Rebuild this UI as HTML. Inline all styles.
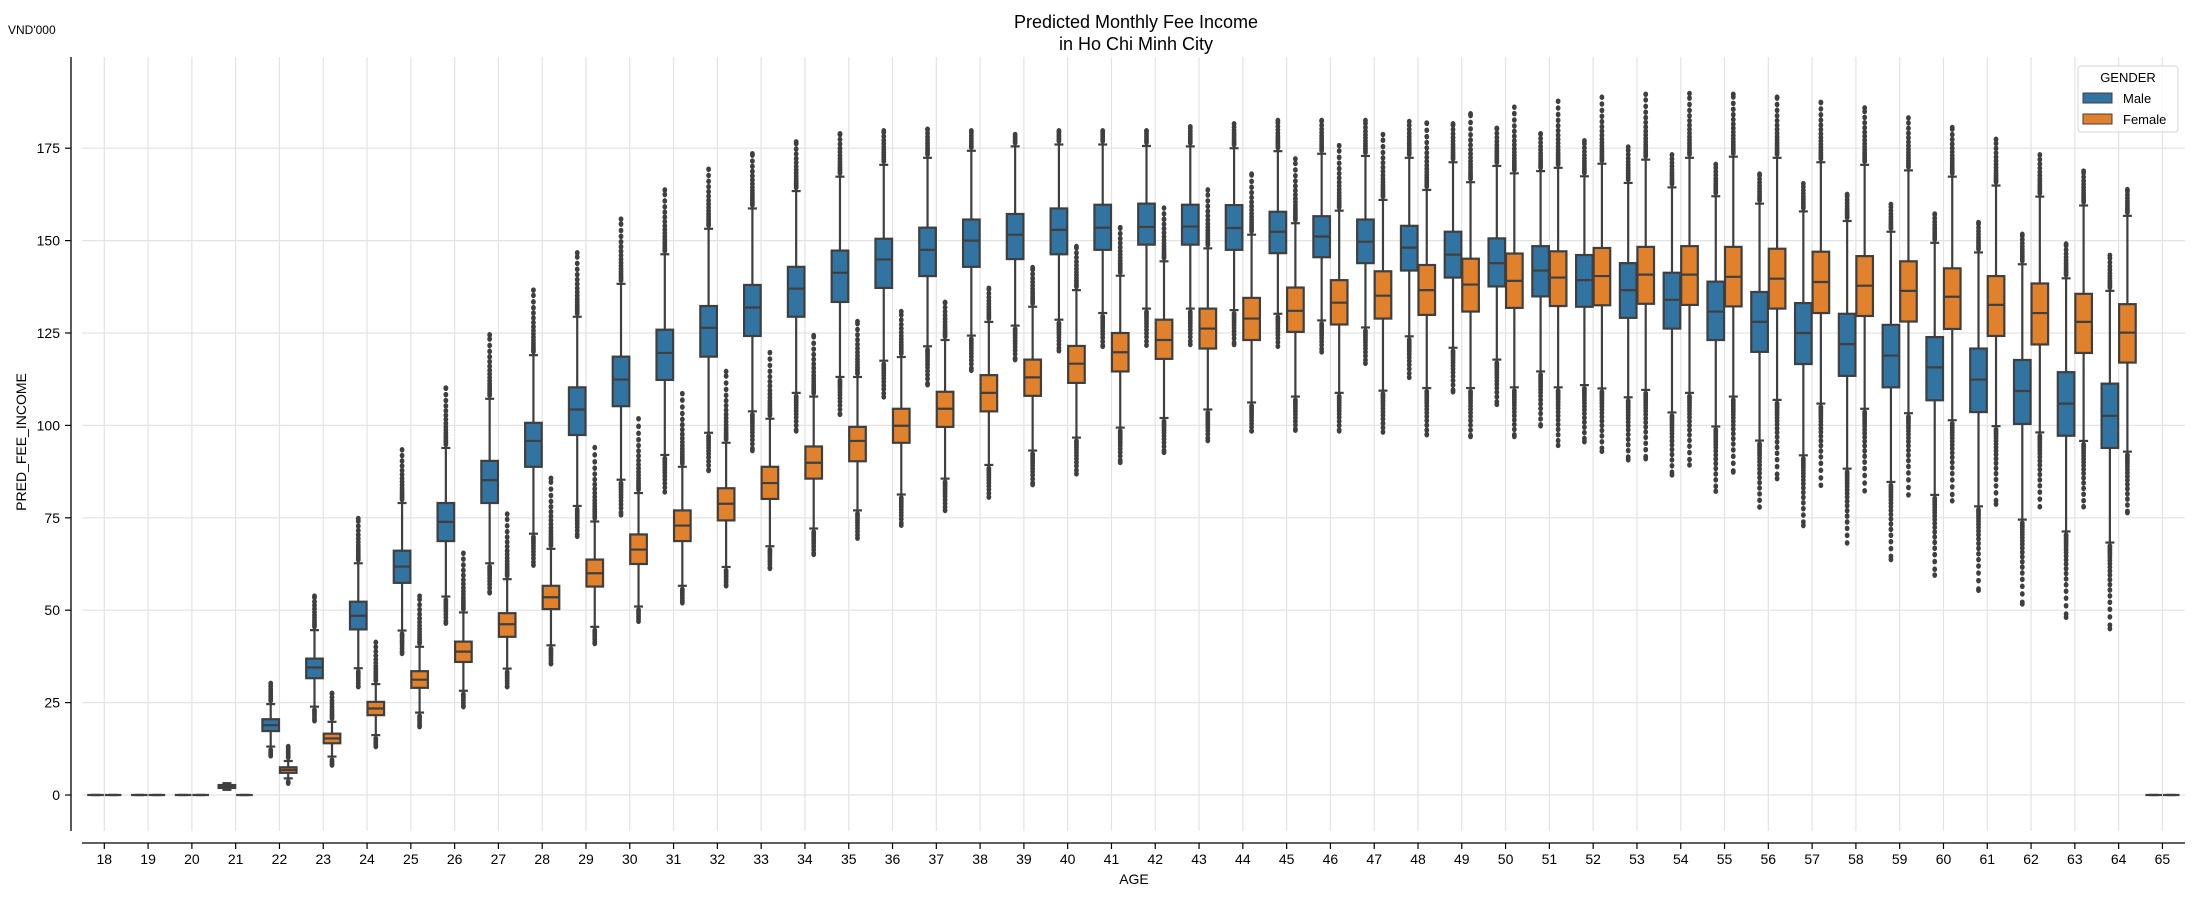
<!DOCTYPE html>
<html><head><meta charset="utf-8"><title>Predicted Monthly Fee Income</title>
<style>
html,body{margin:0;padding:0;background:#fff;}
svg{display:block;font-family:"Liberation Sans","DejaVu Sans",sans-serif;}
</style></head>
<body>
<svg id="chart" width="2200" height="900" viewBox="0 0 2200 900" xmlns="http://www.w3.org/2000/svg">
  <rect x="0" y="0" width="2200" height="900" fill="#fff"/>
  <g id="grid"></g>
  <g id="boxes"></g>
  <g id="axes"></g>
  <text x="1136" y="28" text-anchor="middle" font-size="18" fill="#000">Predicted Monthly Fee Income</text>
  <text x="1136" y="50" text-anchor="middle" font-size="18" fill="#000">in Ho Chi Minh City</text>
  <text x="8" y="34" font-size="12" fill="#000">VND'000</text>
  <text x="1134" y="884" text-anchor="middle" font-size="14" fill="#000">AGE</text>
  <text transform="translate(26,442) rotate(-90)" text-anchor="middle" font-size="14" fill="#000">PRED_FEE_INCOME</text>
  <g>
    <rect x="2078" y="66" width="100" height="66" rx="3" fill="#fff" fill-opacity="0.8" stroke="#d6d6d6"/>
    <text x="2128" y="82" text-anchor="middle" font-size="13" fill="#000">GENDER</text>
    <rect x="2083" y="93" width="29" height="10" fill="#3274a1" stroke="#3f3f3f"/>
    <text x="2123" y="103" font-size="13" fill="#000">Male</text>
    <rect x="2083" y="114" width="29" height="10" fill="#e1812c" stroke="#3f3f3f"/>
    <text x="2123" y="124" font-size="13" fill="#000">Female</text>
  </g>
</svg>
<script>
const ages = [18,19,20,21,22,23,24,25,26,27,28,29,30,31,32,33,34,35,36,37,38,39,40,41,42,43,44,45,46,47,48,49,50,51,52,53,54,55,56,57,58,59,60,61,62,63,64,65];
const yTicks = [0,25,50,75,100,125,150,175];

const maleQ1  = [0,0,0,1.9,17.3,31.6,44.8,57.4,68.7,79,88.8,97.4,105.2,112.3,118.6,124.2,129.4,133.4,137.2,140.4,142.9,145,146.3,147.5,148.9,148.9,147.5,146.6,145.5,143.9,141.9,140,137.6,134.9,132.1,129.1,126.2,123.1,119.9,116.6,113.4,110.3,106.8,103.6,100.4,97.2,93.9,0];
const maleMed = [0,0,0,2.3,18.9,34.5,48.5,61.8,73.9,85.2,95.8,104.3,112.4,119.6,126.4,131.9,137,141.3,144.9,147.5,150,151.6,152.9,153.5,153.7,153.8,153.4,152.4,151.1,149.7,148.1,146.2,143.9,141.9,139.3,136.6,134,130.8,128,125,122,118.9,115.7,112.4,109.3,105.9,102.6,0];
const maleQ3  = [0,0,0,2.7,20.5,36.9,52.3,66.1,79,90.4,100.7,110.3,118.6,125.9,132.3,138,142.9,147.3,150.5,153.5,155.7,157.2,158.7,159.7,160,159.7,159.6,157.8,156.6,155.7,154,152.4,150.6,148.5,146.1,143.9,141.3,138.9,136.1,133.1,130.2,127.2,123.9,120.8,117.7,114.4,111.3,0];
const maleWLo = [0,0,0,1.4,13.1,23.9,34.3,44.5,53.7,62.7,70.7,78.2,85.3,92,98,103.8,108.8,113.1,117.5,121.4,124.3,127,128.6,130.4,131.6,131.6,131.2,130.2,128.4,126.5,124.1,121,117.8,114.6,110.9,107.6,103.5,99.7,95.9,91.9,88.3,84.7,81.2,78.1,74.5,71.3,68.3,0];
const maleWHi = [0,0,0,3.2,24.6,44.6,62.7,79,93.9,107.2,119,129.4,138.3,146.3,153.2,158.7,163.4,167.3,170.5,172.4,174.3,175.5,176,176,175.6,175.5,175,174.2,173.5,172.9,172.4,171.2,170.2,168.8,167.4,165.6,164.4,162,160,157.9,155.3,152.4,149.4,146.8,143.6,139.8,136.4,0];
const maleOutLo = [0,0,0,0.6,10.6,20.1,29.3,38.3,46.5,54.7,62.2,70,75.8,82,87.8,93.2,98.5,103,107.7,111,114.9,117.8,120.2,121.4,121.7,121.9,121.9,121.4,119.9,116.8,113,109.1,105.7,99.9,95.6,90.7,86.6,82.2,77.9,72.9,68.2,63.7,59.5,55.4,51.7,48.1,45,0];
const maleOutHi = [0,0,0,4.0,30.2,53.8,74.8,93.4,110.1,124.5,136.6,146.7,155.8,163.7,169.3,173.5,176.7,178.9,179.7,180.1,179.7,178.7,179.7,179.7,179.7,180.8,181.6,182.5,182.5,182.5,182.2,181.6,180.4,178.9,177,175.3,173.2,170.6,168,165.4,162.5,159.8,157.2,154.9,151.7,149.1,146,0];

const femaleQ1  = [0,0,0,0,6.0,14,21.6,29,36,42.8,50.3,56.4,62.5,68.7,74.3,80.1,85.6,90.3,95.3,99.6,103.8,108,111.5,114.6,118,120.8,123.1,125.3,127.3,128.9,129.9,130.8,131.8,132.3,132.5,132.9,132.6,132.2,131.6,130.4,129.6,128.1,126.1,124.2,121.9,119.6,117,0];
const femaleMed = [0,0,0,0,6.8,15.3,23.4,31.2,38.8,46.2,53.5,60,66.4,72.9,78.8,84.4,89.9,95.8,99.9,104.5,108.8,113,116.7,119.8,123.1,126.2,128.9,131,133.2,135.1,136.6,138.1,139.1,140,140.4,140.8,140.8,140.2,139.7,138.8,137.8,136.4,134.8,132.6,130.4,128,125.1,0];
const femaleQ3  = [0,0,0,0,7.5,16.6,25.2,33.5,41.5,49.2,56.6,63.7,70.5,77,83,88.8,94.3,99.6,104.5,109.1,113.6,117.8,121.5,125,128.6,131.6,134.5,137.3,139.3,141.7,143.4,145.1,146.5,147.1,148,148.3,148.5,148.3,147.8,147,145.8,144.4,142.5,140.4,138.4,135.6,132.8,0];
const femaleWLo = [0,0,0,0,4.5,10.4,16.2,22.3,28.2,34.2,40.5,45.5,51,56.6,61.7,67.3,72.1,77,81.3,85.6,89.3,93.2,96.7,99.4,102,104.3,106.2,107.8,108.8,109.4,110.1,110.1,110.3,110.3,110,109.6,108.8,107.8,106.9,105.9,104.5,103.3,101.4,99.8,98.1,95.8,92.9,0];
const femaleWHi = [0,0,0,0,9.2,19.8,30,40.1,49.4,58.4,66.6,74,81.7,88.8,95.3,101.8,107.8,113.1,118.5,123.1,128,132.1,136.6,140.5,144.4,147.9,151.6,154.7,158.1,161,163.7,165.8,168.2,169.7,170.8,171.9,172.4,172.7,172.4,171.2,170.5,169,167.3,164.9,161.9,159.5,156.7,0];
const femaleOutLo = [0,0,0,0,3.2,8.1,13.1,18.5,23.9,29.3,35.5,41,47,52,56.6,61.3,65.1,69.5,73,77,80.6,84,86.9,90,92.7,95.9,98.5,98.7,98.5,98.2,97.5,97,97,94.6,93,91,89.3,87.4,85.6,83.8,82.3,81.2,79.6,78.7,78,78,76.4,0];
const femaleOutHi = [0,0,0,0,13.1,27.5,41.3,53.8,65.4,76,85.7,94,101.8,108.6,114.6,119.7,124.3,128.1,130.8,133.3,137.1,142.7,148.4,153.5,158.8,163.7,168,172.1,175.7,178.7,181.8,184.3,186.1,187.7,188.8,189.6,189.8,189.6,188.8,187.4,185.9,183.2,180.6,177.4,173.2,168.8,163.8,0];

const NS = "http://www.w3.org/2000/svg";
const X0 = 104.3, STEP = 43.79, Y0 = 795, YS = 3.696;
function xScale(i){ return X0 + i*STEP; }
function yScale(v){ return Y0 - v*YS; }
function mk(tag, attrs, parent){
  const e = document.createElementNS(NS, tag);
  for (const k in attrs) e.setAttribute(k, attrs[k]);
  parent.appendChild(e);
  return e;
}
const grid = document.getElementById('grid');
const axes = document.getElementById('axes');
const boxes = document.getElementById('boxes');
const EDGE = "#3f3f3f";

// grid
yTicks.forEach(t => {
  const l = mk('line', {x1:82, x2:2185, y1:yScale(t), y2:yScale(t), stroke:"#e3e3e3", "stroke-width":1.2}, grid);
  
  
});
ages.forEach((a,i) => {
  const l = mk('line', {x1:xScale(i), x2:xScale(i), y1:57, y2:831, stroke:"#e3e3e3", "stroke-width":1.2}, grid);
  
  
});

// axes
const ys = mk('line', {x1:71, x2:71, y1:57, y2:831, stroke:"#000", "stroke-width":1.3}, axes);


const xs = mk('line', {x1:82, x2:2185, y1:843, y2:843, stroke:"#000", "stroke-width":1.3}, axes);


yTicks.forEach(t => {
  const tk = mk('line', {x1:65, x2:71, y1:yScale(t), y2:yScale(t), stroke:"#000", "stroke-width":1.2}, axes);
  
  
  const tx = mk('text', {x:60, y:yScale(t)+5, "text-anchor":"end", "font-size":14, fill:"#000"}, axes);
  tx.textContent = t;
  
  
});
ages.forEach((a,i) => {
  const tk = mk('line', {x1:xScale(i), x2:xScale(i), y1:843, y2:849, stroke:"#000", "stroke-width":1.2}, axes);
  
  
  const tx = mk('text', {x:xScale(i), y:864, "text-anchor":"middle", "font-size":14, fill:"#000"}, axes);
  tx.textContent = a;
  
  
});

function fliers(g, cx, from, to){
  // draws a column of flier markers between whisker end and the extreme value
  const p0 = yScale(from), p1 = yScale(to);
  const dir = p1 < p0 ? -1 : 1;
  const len = Math.abs(p1 - p0);
  if (len < 3) return;
  let d = 3.5;
  while (d < len) {
    const y = p0 + dir*d;
    const f = mk('ellipse', {cx:cx, cy:y, rx:2.4, ry:2.8, fill:EDGE}, g);
    
    
    d += 1.6 + 0.09*d;
  }
  const f = mk('ellipse', {cx:cx, cy:p1, rx:2.4, ry:2.8, fill:EDGE}, g);
  
  
}

function drawBox(i, off, color, q1, med, q3, wlo, whi, olo, ohi, name){
  const cx = xScale(i) + off;
  const w = 16.6;
  const g = mk('g', {}, boxes);
  
  
  const wl = mk('line', {x1:cx, x2:cx, y1:yScale(q3), y2:yScale(whi), stroke:EDGE, "stroke-width":2.2}, g);
  
  
  const wl2 = mk('line', {x1:cx, x2:cx, y1:yScale(q1), y2:yScale(wlo), stroke:EDGE, "stroke-width":2.2}, g);
  
  
  const c1 = mk('line', {x1:cx-4.5, x2:cx+4.5, y1:yScale(whi), y2:yScale(whi), stroke:EDGE, "stroke-width":2.2}, g);
  
  
  const c2 = mk('line', {x1:cx-4.5, x2:cx+4.5, y1:yScale(wlo), y2:yScale(wlo), stroke:EDGE, "stroke-width":2.2}, g);
  
  
  fliers(g, cx, whi, ohi);
  fliers(g, cx, wlo, olo);
  const r = mk('rect', {x:cx-w/2, y:yScale(q3), width:w, height:Math.max(0, yScale(q1)-yScale(q3)), fill:color, stroke:EDGE, "stroke-width":2.2}, g);
  
  
  const m = mk('line', {x1:cx-w/2, x2:cx+w/2, y1:yScale(med), y2:yScale(med), stroke:EDGE, "stroke-width":2.2}, g);
  
  
}

ages.forEach((a,i) => {
  drawBox(i, -8.76, "#3274a1", maleQ1[i], maleMed[i], maleQ3[i], maleWLo[i], maleWHi[i], maleOutLo[i], maleOutHi[i], 'male-box');
  drawBox(i, 8.76, "#e1812c", femaleQ1[i], femaleMed[i], femaleQ3[i], femaleWLo[i], femaleWHi[i], femaleOutLo[i], femaleOutHi[i], 'female-box');
});
</script>
</body></html>
